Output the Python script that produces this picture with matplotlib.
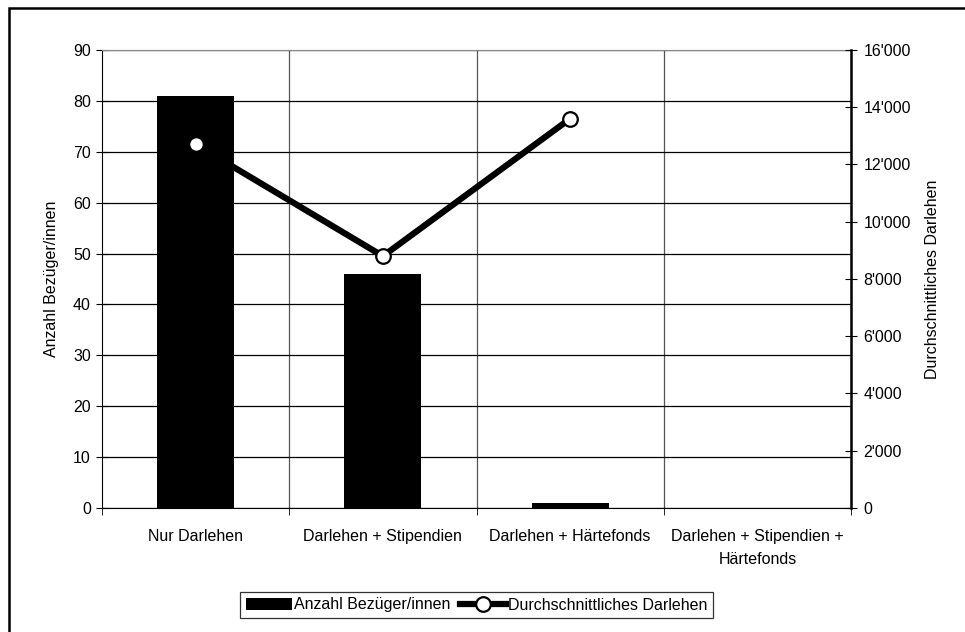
import matplotlib.pyplot as plt
import numpy as np
from matplotlib.patches import Rectangle
from matplotlib.ticker import FuncFormatter, MultipleLocator

plt.rcParams['font.family'] = ['Liberation Sans', 'DejaVu Sans']
plt.rcParams['font.size'] = 11.5

categories = ['Nur Darlehen', 'Darlehen + Stipendien', 'Darlehen + Härtefonds',
              'Darlehen + Stipendien +\nHärtefonds']
anzahl = [81, 46, 1, 0]
darlehen = [12700, 8800, 13600, np.nan]


def main():
    fig = plt.figure(figsize=(9.65, 6.32), dpi=100)
    # chart frame, running past the right and bottom edges
    fig.patches.append(Rectangle((8.5 / 965, -10 / 632), 970 / 965, 634.5 / 632,
                                 transform=fig.transFigure, fill=False,
                                 edgecolor='black', linewidth=1.8))
    ax = fig.add_axes([0.1057, 0.1962, 0.7762, 0.7247])
    x = np.arange(len(categories))

    pb = ax.bar(x, anzahl, width=0.41, color='black', zorder=3)
    ax.set_xlim(-0.5, 3.5)
    ax.set_ylim(0, 90)
    ax.yaxis.set_major_locator(MultipleLocator(10))
    ax.grid(axis='y', color='black', linewidth=0.9, zorder=0)
    for b in [0.5, 1.5, 2.5]:
        ax.axvline(b, color='#555555', linewidth=0.9, zorder=0)
    ax.set_xticks(x)
    ax.set_xticklabels(categories, linespacing=1.7, va='top')
    ax.set_xticks([-0.5, 0.5, 1.5, 2.5, 3.5], minor=True)
    ax.tick_params(axis='x', which='major', length=0, pad=15)
    ax.tick_params(axis='x', which='minor', length=5, direction='out')
    ax.tick_params(axis='y', length=8, direction='inout', pad=4)
    ax.set_ylabel('Anzahl Bezüger/innen', labelpad=10)
    ax.spines['top'].set_color('#888888')
    ax.spines['right'].set_visible(False)

    ax2 = ax.twinx()
    pl, = ax2.plot(x, darlehen, color='black', linewidth=4.5, marker='o',
                   markersize=10.5, markerfacecolor='white',
                   markeredgecolor='black', markeredgewidth=1.6, zorder=5)
    ax2.set_ylim(0, 16000)
    ax2.yaxis.set_major_locator(MultipleLocator(2000))
    ax2.yaxis.set_major_formatter(
        FuncFormatter(lambda v, p: f"{v:,.0f}".replace(',', "'")))
    ax2.tick_params(axis='y', length=8, direction='inout', pad=5)
    ax2.set_ylabel('Durchschnittliches Darlehen', labelpad=10)
    ax2.spines['right'].set_linewidth(1.8)
    ax2.spines['top'].set_visible(False)
    ax2.spines['left'].set_visible(False)
    ax2.spines['bottom'].set_visible(False)

    leg = fig.legend((pb, pl), ('Anzahl Bezüger/innen', 'Durchschnittliches Darlehen'),
                     loc='center', bbox_to_anchor=(476.5 / 965, 1 - 605 / 632),
                     ncol=2, frameon=True, fancybox=False, borderpad=0.35,
                     handlelength=2.9, handletextpad=0.1, columnspacing=0.6,
                     borderaxespad=0)
    leg.get_frame().set_edgecolor('black')
    leg.get_frame().set_linewidth(0.9)

    fig.savefig('out.png', dpi=100)


if __name__ == "__main__":
    main()
